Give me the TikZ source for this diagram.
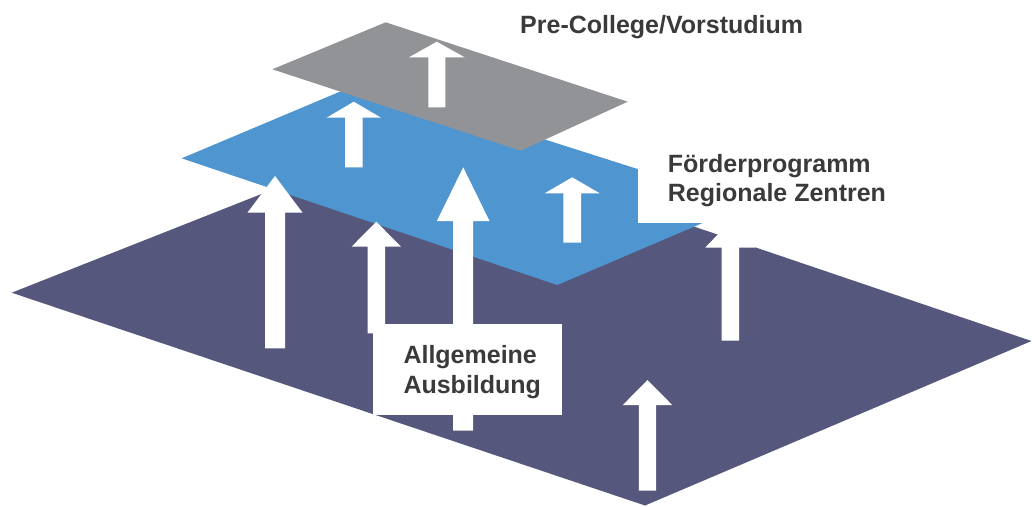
\documentclass[tikz,border=0pt]{standalone}
\usepackage{fontspec}
\setmainfont{Liberation Sans}
\definecolor{darkplane}{HTML}{55587C}
\definecolor{blueplane}{HTML}{4F96D0}
\definecolor{grayplane}{HTML}{929397}
\definecolor{txtcol}{HTML}{3A3A3C}
\tikzset{
  lbl/.style={font=\bfseries\fontsize{25}{30}\selectfont, text=txtcol, inner sep=0pt},
  wbox/.style={fill=white, draw=none, inner sep=0pt},
  blk/.style={fill=white, draw=none},
}
% cx, bottom, head base, tip, shaft half width, head half width
\newcommand\blkarrow[6]{%
  \fill[blk] (#1-#5,#2) -- (#1-#5,#3) -- (#1-#6,#3) -- (#1,#4) -- (#1+#6,#3)
     -- (#1+#5,#3) -- (#1+#5,#2) -- cycle;}
\begin{document}
\begin{tikzpicture}[x=1pt,y=-1pt]
\useasboundingbox (0,0) rectangle (1032,506);
% base plane
\fill[darkplane] (11.7,292.7) -- (416.9,132.6) -- (1031.5,341) -- (645,505.5) -- cycle;
\blkarrow{730.3}{340.7}{247.5}{221.5}{8.7}{25}
\blkarrow{647.5}{490.7}{405}{380}{8.7}{24.7}
% blue plane
\fill[blueplane] (181.7,158.3) -- (363.4,81.8) -- (747.4,203.9) -- (557.3,285) -- cycle;
\blkarrow{376.3}{333.3}{246.7}{221.7}{8.7}{24.7}
\blkarrow{353.8}{167.3}{117.7}{101.7}{8.8}{27.2}
\blkarrow{572.2}{242.7}{193.3}{177.3}{8.8}{27.5}
\blkarrow{463.2}{430.7}{221}{167.3}{10}{26.3}
\blkarrow{275}{348.3}{212.7}{176}{10}{27.6}
% gray plane
\fill[grayplane] (272.3,69.3) -- (385.7,22.3) -- (627.7,101.7) -- (520.7,150.7) -- cycle;
\blkarrow{436.8}{107.3}{57.3}{41.7}{8.5}{27.8}
% labels
\node[lbl, anchor=base west] (pre) at (520,33.3) {Pre-College/Vorstudium};
\node[wbox, anchor=south west, minimum width=300, minimum height=83] (fbox) at (637.5,223) {};
\node[lbl, anchor=base west] (f1) at (667.7,172.3) {Förderprogramm};
\node[lbl, anchor=base west] (f2) at (667.7,201.7) {Regionale Zentren};
\node[wbox, anchor=north west, minimum width=189.3, minimum height=91] (abox) at (372.7,324) {};
\node[lbl, anchor=base west] (a1) at (403.3,363.3) {Allgemeine};
\node[lbl, anchor=base west] (a2) at (403.3,393.3) {Ausbildung};
\end{tikzpicture}
\end{document}
